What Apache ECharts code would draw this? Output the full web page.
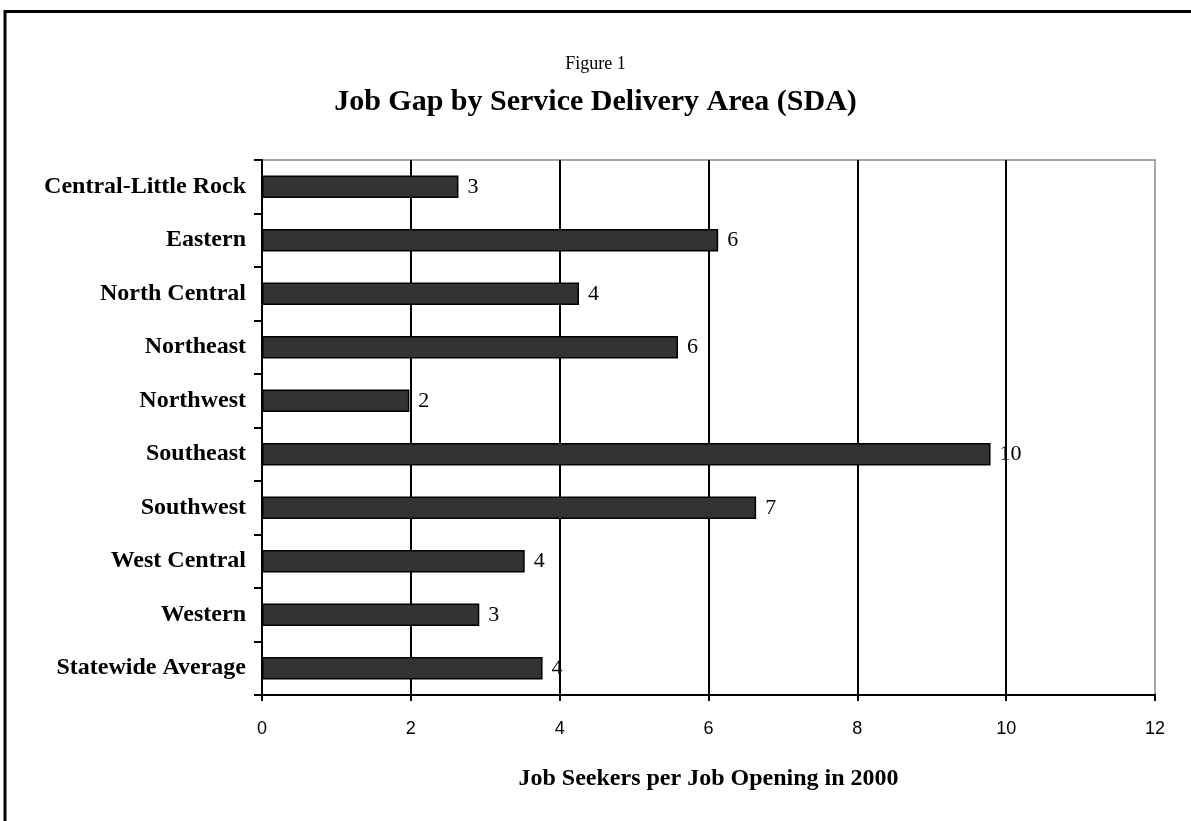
<!DOCTYPE html>
<html>
<head>
<meta charset="utf-8">
<script src="https://cdn.jsdelivr.net/npm/echarts@6/dist/echarts.min.js"></script>
<style>
html,body{margin:0;padding:0;background:#fff;}
#chart{width:1191px;height:821px;}
</style>
</head>
<body>
<div id="chart"></div>
<script>
const categories = ["Central-Little Rock","Eastern","North Central","Northeast","Northwest","Southeast","Southwest","West Central","Western","Statewide Average"];
const values = [2.64, 6.13, 4.26, 5.59, 1.98, 9.79, 6.64, 3.53, 2.92, 3.77];
const labels = ["3","6","4","6","2","10","7","4","3","4"];
const xTicks = [0, 2, 4, 6, 8, 10, 12];
const figureLabel = "Figure 1";
const titleText = "Job Gap by Service Delivery Area (SDA)";
const xAxisTitle = "Job Seekers per Job Opening in 2000";

const serif = "'Liberation Serif', 'Times New Roman', serif";
const chart = echarts.init(document.getElementById('chart'), null, {renderer: 'canvas'});
chart.setOption({
  animation: false,
  backgroundColor: '#ffffff',
  title: [
    {text: figureLabel, left: 'center', top: 50, textStyle: {fontFamily: serif, fontWeight: 'normal', fontSize: 18, color: '#000'}},
    {text: titleText, left: 'center', top: 82, textStyle: {fontFamily: serif, fontWeight: 'bold', fontSize: 30, color: '#000'}}
  ],
  graphic: [
    {type: 'line', shape: {x1: 5, y1: 11.5, x2: 1191, y2: 11.5}, style: {stroke: '#000', lineWidth: 3}},
    {type: 'line', shape: {x1: 5, y1: 10, x2: 5, y2: 821}, style: {stroke: '#000', lineWidth: 3}}
  ],
  grid: {left: 262, top: 160, right: 36, bottom: 126, show: true, borderColor: '#888', borderWidth: 1.5, backgroundColor: 'transparent'},
  xAxis: {
    type: 'value', min: xTicks[0], max: xTicks[xTicks.length - 1], interval: 2,
    name: xAxisTitle, nameLocation: 'middle', nameGap: 72,
    nameTextStyle: {fontFamily: serif, fontWeight: 'bold', fontSize: 24, color: '#000'},
    axisLine: {show: true, lineStyle: {color: '#000', width: 2}},
    axisTick: {show: true, length: 6, lineStyle: {color: '#000', width: 2}},
    axisLabel: {fontFamily: "'Liberation Sans', Arial, sans-serif", fontSize: 18, color: '#000', margin: 25,
      formatter: v => xTicks.includes(v) ? String(v) : ''},
    splitLine: {show: true, showMinLine: false, showMaxLine: false, lineStyle: {color: '#000', width: 2}}
  },
  yAxis: {
    type: 'category', data: categories, inverse: true,
    axisLine: {show: true, lineStyle: {color: '#000', width: 2}},
    axisTick: {show: true, length: 8, lineStyle: {color: '#000', width: 2}},
    axisLabel: {fontFamily: serif, fontWeight: 'bold', fontSize: 24, color: '#000', margin: 16},
    splitLine: {show: false}
  },
  series: [{
    type: 'bar', data: values, barWidth: '42%',
    itemStyle: {color: '#333333', borderColor: '#000', borderWidth: 1.5},
    label: {show: true, position: 'right', distance: 9, fontFamily: serif, fontSize: 22, color: '#000',
      formatter: p => labels[p.dataIndex]}
  }]
});
</script>
</body>
</html>
